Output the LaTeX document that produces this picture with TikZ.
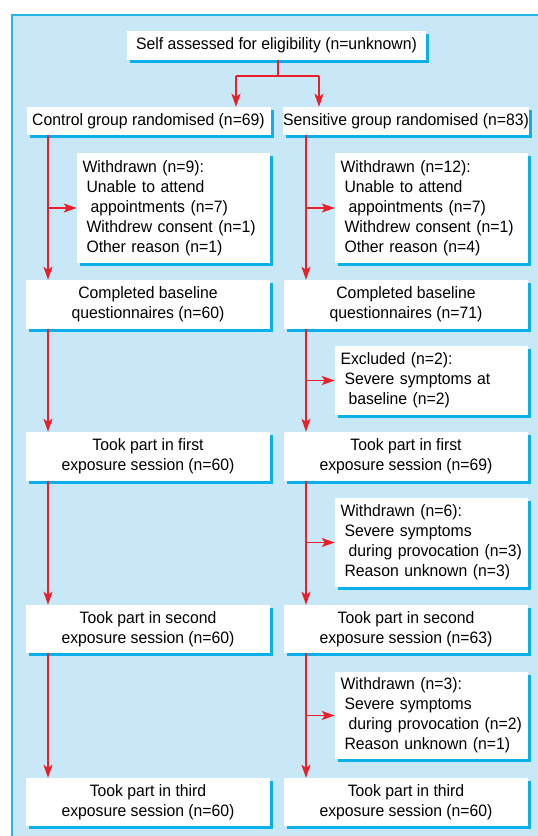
\documentclass[tikz,border=0pt]{standalone}
\usepackage{fontspec}
\setmainfont{Liberation Sans}[FakeStretch=0.955]
\usepackage{xcolor}
\usetikzlibrary{arrows.meta, shadows}

\definecolor{panelblue}{HTML}{C8E8F8}
\definecolor{rimblue}{HTML}{29B5E8}
\definecolor{shadowblue}{HTML}{0AB0EA}
\definecolor{flowred}{HTML}{E8202A}

\tikzset{
  flowbox/.style={fill=white, inner sep=0pt, align=center,
    font=\fontsize{16.5pt}{20pt}\selectfont,
    drop shadow={shadow xshift=3pt, shadow yshift=-3pt, fill=shadowblue, opacity=1}},
  wide/.style={flowbox, minimum width=244pt},
  side/.style={flowbox, minimum width=193pt, text width=182pt, align=left},
  flow/.style={flowred, line width=1.8pt},
  flowarrow/.style={flow, -{Stealth[length=13pt, width=9pt, inset=3pt]}}
}

\begin{document}
\begin{tikzpicture}[x=1pt, y=-1pt]
    \useasboundingbox (0,0) rectangle (538,836);
    \fill[white] (0,0) rectangle (538,836);

    % Panel
    \fill[panelblue] (12,15) rectangle (538,836);
    \draw[rimblue, line width=2pt] (538,15) -- (12,15) -- (12,836);

    % Top
    \node[flowbox, minimum width=299pt, minimum height=29pt] (self) at (276.5,45.5) {Self assessed for eligibility (n=unknown)};
    \node[wide, minimum height=28pt] (ctrl) at (148.5,121) {Control group randomised (n=69)};
    \node[wide, minimum height=28pt] (sens) at (406,121) {Sensitive group randomised (n=83)};

    % Control group
    \node[side, minimum height=110pt] (wdctrl) at (173.5,208) {Withdrawn (n=9):\\
      \hspace*{4pt}Unable to attend\\
      \hspace*{8pt}appointments (n=7)\\
      \hspace*{4pt}Withdrew consent (n=1)\\
      \hspace*{4pt}Other reason (n=1)};
    \node[wide, minimum height=49pt] (basectrl) at (148,304.5) {Completed baseline\\questionnaires (n=60)};
    \node[wide, minimum height=49pt] (firstctrl) at (148,456.5) {Took part in first\\exposure session (n=60)};
    \node[wide, minimum height=48pt] (secondctrl) at (148,629) {Took part in second\\exposure session (n=60)};
    \node[wide, minimum height=48pt] (thirdctrl) at (148,802) {Took part in third\\exposure session (n=60)};

    % Sensitive group
    \node[side, minimum height=110pt] (wdsens) at (431.5,208) {Withdrawn (n=12):\\
      \hspace*{4pt}Unable to attend\\
      \hspace*{8pt}appointments (n=7)\\
      \hspace*{4pt}Withdrew consent (n=1)\\
      \hspace*{4pt}Other reason (n=4)};
    \node[wide, minimum height=49pt] (basesens) at (406,304.5) {Completed baseline\\questionnaires (n=71)};
    \node[side, minimum height=69pt] (exclsens) at (431.5,380.5) {Excluded (n=2):\\
      \hspace*{4pt}Severe symptoms at\\
      \hspace*{8pt}baseline (n=2)};
    \node[wide, minimum height=49pt] (firstsens) at (406,456.5) {Took part in first\\exposure session (n=69)};
    \node[side, minimum height=89pt] (wdfirst) at (431.5,542.5) {Withdrawn (n=6):\\
      \hspace*{4pt}Severe symptoms\\
      \hspace*{8pt}during provocation (n=3)\\
      \hspace*{4pt}Reason unknown (n=3)};
    \node[wide, minimum height=48pt] (secondsens) at (406,629) {Took part in second\\exposure session (n=63)};
    \node[side, minimum height=87pt] (wdsecond) at (431.5,715.5) {Withdrawn (n=3):\\
      \hspace*{4pt}Severe symptoms\\
      \hspace*{8pt}during provocation (n=2)\\
      \hspace*{4pt}Reason unknown (n=1)};
    \node[wide, minimum height=48pt] (thirdsens) at (406,802) {Took part in third\\exposure session (n=60)};

    % Fork
    \coordinate (fork) at (278,76);
    \coordinate (forkl) at (236,76);
    \coordinate (forkr) at (319,76);
    \draw[flow] (self.south -| fork) -- (fork) (forkl) -- (forkr);
    \draw[flowarrow] (forkl) -- (forkl |- ctrl.north);
    \draw[flowarrow] (forkr) -- (forkr |- sens.north);

    % Columns
    \coordinate (lcol) at (48,0);
    \coordinate (rcol) at (306,0);
    \draw[flowarrow] (ctrl.south -| lcol) -- (basectrl.north -| lcol);
    \draw[flowarrow] (basectrl.south -| lcol) -- (firstctrl.north -| lcol);
    \draw[flowarrow] (firstctrl.south -| lcol) -- (secondctrl.north -| lcol);
    \draw[flowarrow] (secondctrl.south -| lcol) -- (thirdctrl.north -| lcol);
    \draw[flowarrow] (sens.south -| rcol) -- (basesens.north -| rcol);
    \draw[flowarrow] (basesens.south -| rcol) -- (firstsens.north -| rcol);
    \draw[flowarrow] (firstsens.south -| rcol) -- (secondsens.north -| rcol);
    \draw[flowarrow] (secondsens.south -| rcol) -- (thirdsens.north -| rcol);

    % Branches
    \draw[flowarrow] (wdctrl.west -| lcol) -- (wdctrl.west);
    \draw[flowarrow] (wdsens.west -| rcol) -- (wdsens.west);
    \draw[flowarrow] (exclsens.west -| rcol) -- (exclsens.west);
    \draw[flowarrow] (wdfirst.west -| rcol) -- (wdfirst.west);
    \draw[flowarrow] (wdsecond.west -| rcol) -- (wdsecond.west);
\end{tikzpicture}
\end{document}
